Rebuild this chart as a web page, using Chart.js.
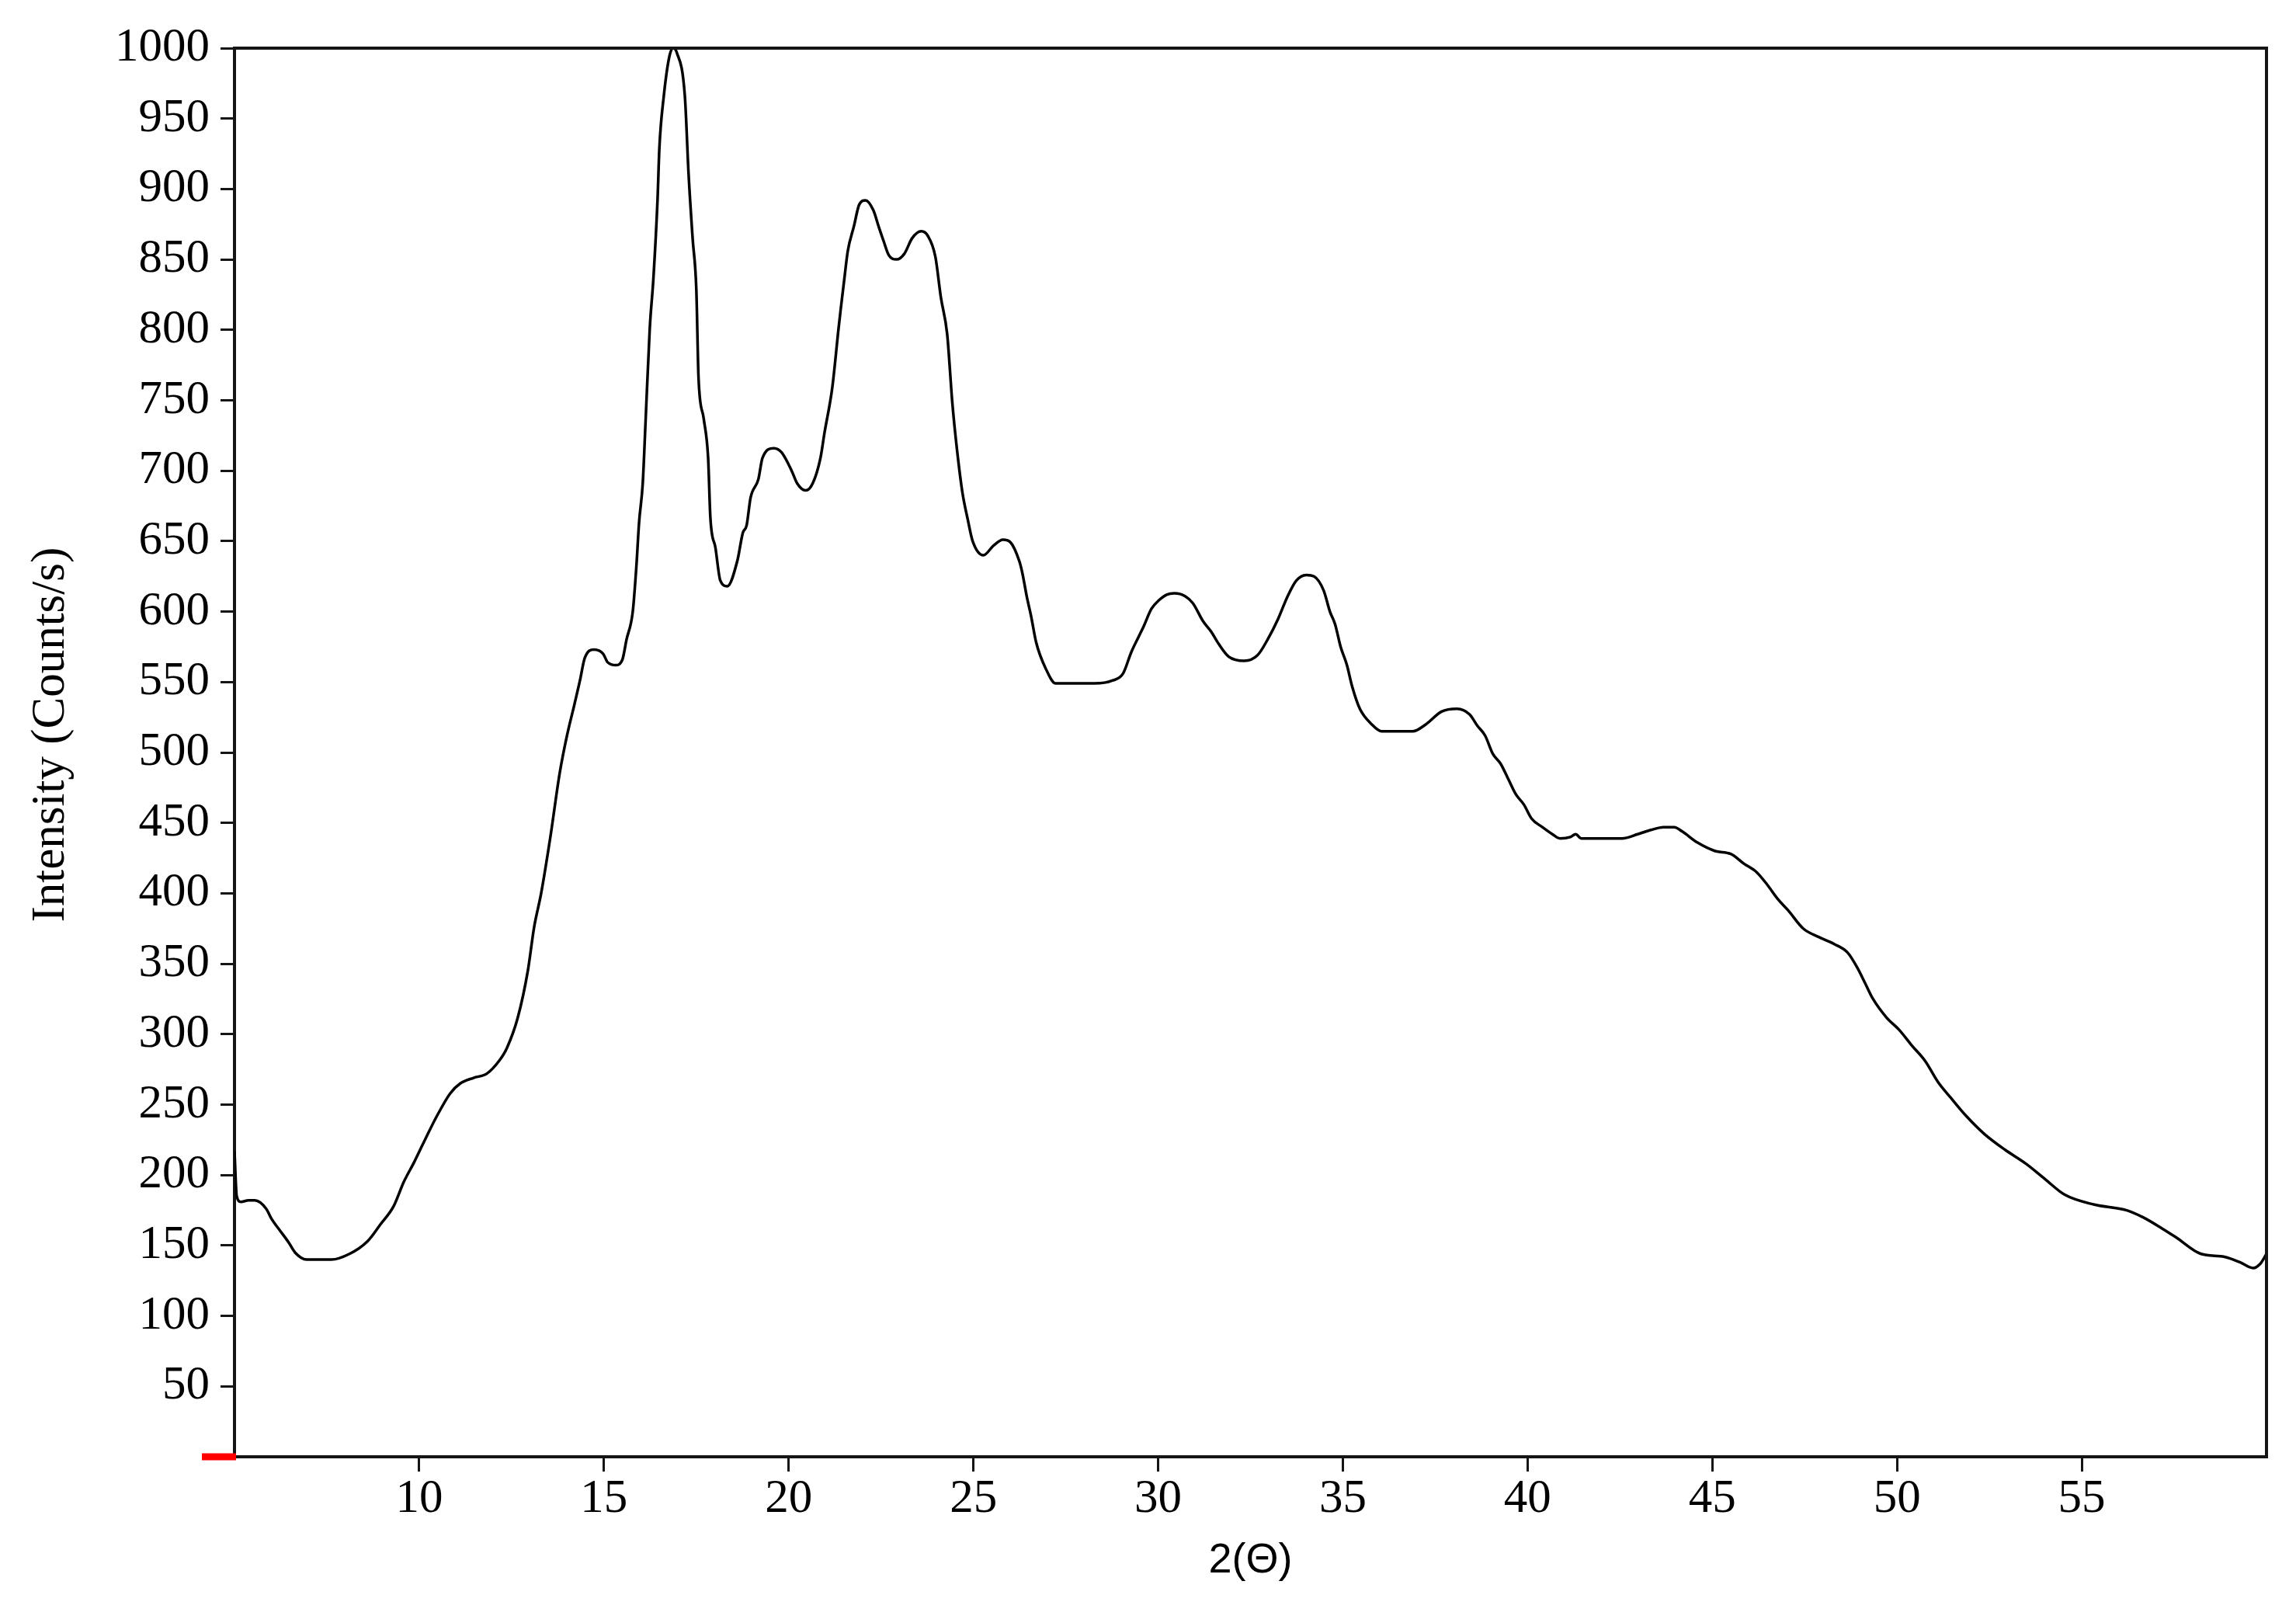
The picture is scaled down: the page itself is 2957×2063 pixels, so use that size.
<!DOCTYPE html>
<html>
<head>
<meta charset="utf-8">
<script src="https://cdn.jsdelivr.net/npm/chart.js@4.4.0/dist/chart.umd.min.js"></script>
<style>
  html, body { margin: 0; padding: 0; background: #fff; }
  canvas { display: block; }
</style>
</head>
<body>
<canvas id="xrd" width="2957" height="2063"></canvas>
<script>
// 2θ positions (deg) and intensities
const twoTheta = [
  5.0, 5.06, 5.17, 5.38, 5.55, 5.86, 6.0, 6.22, 6.47, 6.64, 6.95, 7.62, 8.11, 8.6, 8.95,
  9.31, 9.58, 9.86, 10.21, 10.48, 10.84, 11.11, 11.47, 11.83, 12.16, 12.37, 12.67, 12.94, 13.11, 13.3,
  13.55, 13.8, 14.0, 14.2, 14.35, 14.48, 14.73, 14.98, 15.1, 15.32, 15.5, 15.61, 15.78, 15.88, 15.95,
  16.05, 16.13, 16.24, 16.34, 16.45, 16.5, 16.62, 16.77, 16.87, 16.97, 17.19, 17.29, 17.4, 17.5, 17.56,
  17.7, 17.82, 17.88, 18.02, 18.15, 18.34, 18.61, 18.76, 18.86, 18.97, 19.18, 19.29, 19.6, 19.81, 20.08,
  20.23, 20.46, 20.65, 20.86, 20.97, 21.18, 21.35, 21.41, 21.51, 21.6, 21.77, 21.91, 22.08, 22.29, 22.44,
  22.57, 22.71, 22.92, 23.13, 23.34, 23.59, 23.76, 23.97, 24.12, 24.29, 24.43, 24.56, 24.7, 24.85, 24.98,
  25.27, 25.55, 25.8, 26.01, 26.24, 26.32, 26.45, 26.56, 26.7, 26.95, 27.23, 27.7, 28.28, 28.76, 29.05,
  29.27, 29.47, 29.6, 29.82, 30.02, 30.23, 30.44, 30.73, 30.94, 31.22, 31.43, 31.64, 31.91, 32.33, 32.69,
  32.96, 33.25, 33.49, 33.74, 34.01, 34.22, 34.48, 34.65, 34.79, 34.94, 35.11, 35.25, 35.46, 35.78, 36.05,
  36.89, 37.25, 37.67, 38.09, 38.43, 38.64, 38.85, 39.06, 39.27, 39.48, 39.69, 39.9, 40.11, 40.4, 40.67,
  40.88, 41.16, 41.3, 41.45, 42.56, 42.98, 43.34, 43.68, 43.97, 44.18, 44.6, 45.08, 45.5, 45.86, 46.2,
  46.49, 46.77, 47.05, 47.46, 47.88, 48.3, 48.66, 48.93, 49.14, 49.35, 49.71, 50.06, 50.4, 50.76, 51.11,
  51.45, 51.87, 52.37, 52.92, 53.49, 54.01, 54.54, 55.34, 56.22, 56.66, 57.18, 57.54, 58.23, 58.86, 59.29,
  59.64, 59.83, 60.0
];
const intensity = [
  217, 185, 181, 182, 182, 176, 169, 161, 152, 145, 140, 140, 144, 153, 165,
  178, 195, 209, 228, 242, 258, 265, 269, 272, 281, 290, 312, 345, 376, 400,
  440, 485, 512, 534, 551, 567, 573, 570, 564, 562, 566, 580, 600, 633, 663,
  691, 737, 801, 837, 892, 929, 966, 994, 1000, 997, 966, 911, 865, 829, 766,
  737, 709, 667, 645, 622, 618, 636, 656, 661, 681, 694, 709, 716, 713, 700,
  691, 686, 691, 709, 727, 759, 801, 815, 837, 856, 874, 889, 892, 885, 873,
  863, 853, 850, 854, 865, 870, 867, 852, 823, 797, 748, 714, 685, 665, 650,
  640, 647, 651, 649, 636, 628, 610, 597, 578, 560, 549, 549, 549, 551, 556,
  571, 582, 589, 602, 608, 612, 613, 611, 606, 593, 586, 577, 568, 565, 569,
  580, 595, 610, 622, 626, 625, 615, 600, 591, 575, 562, 547, 531, 520, 515,
  515, 520, 529, 531, 527, 519, 512, 499, 492, 481, 470, 463, 453, 447, 442,
  439, 440, 442, 439, 439, 442, 445, 447, 447, 444, 436, 430, 428, 421, 415,
  406, 396, 388, 375, 369, 364, 358, 347, 336, 325, 312, 303, 292, 281, 266,
  255, 242, 229, 218, 208, 197, 186, 179, 175, 170, 162, 156, 144, 142, 138,
  134, 137, 144
];
const xHidden = [5, 60];   // axis ends carry no label
const yHidden = [0];

const AXIS = '#151515';
const NONE = 'rgba(0,0,0,0)';

const framePlugin = {
  id: 'frame',
  afterDraw(chart) {
    const { ctx, chartArea: a, scales } = chart;
    ctx.save();
    ctx.strokeStyle = AXIS;
    ctx.lineWidth = 4;
    ctx.beginPath();
    ctx.moveTo(a.left - 2, a.top);
    ctx.lineTo(a.right, a.top);
    ctx.lineTo(a.right, a.bottom + 2);
    ctx.stroke();
    // red marker at the origin
    const y0 = scales.y.getPixelForValue(0);
    ctx.strokeStyle = '#ff0000';
    ctx.lineWidth = 9;
    ctx.beginPath();
    ctx.moveTo(a.left - 42, y0);
    ctx.lineTo(a.left + 2, y0);
    ctx.stroke();
    ctx.restore();
  }
};

new Chart(document.getElementById('xrd'), {
  type: 'scatter',
  data: {
    datasets: [{
      data: twoTheta.map((x, i) => ({ x, y: intensity[i] })),
      showLine: true,
      borderColor: '#000',
      borderWidth: 3.5,
      pointRadius: 0,
      cubicInterpolationMode: 'monotone'
    }]
  },
  options: {
    responsive: false,
    devicePixelRatio: 1,
    animation: false,
    layout: { padding: { left: 0, right: 38, top: 62, bottom: 0 } },
    plugins: { legend: { display: false }, tooltip: { enabled: false } },
    scales: {
      x: {
        type: 'linear',
        min: 5,
        max: 60,
        afterFit: s => { s.height = 187; },
        border: { display: true, color: AXIS, width: 4 },
        grid: {
          drawOnChartArea: false,
          tickLength: 19,
          tickWidth: 3,
          tickColor: c => (c.tick && xHidden.includes(c.tick.value)) ? NONE : AXIS
        },
        ticks: {
          stepSize: 5,
          padding: 5,
          autoSkip: false,
          maxRotation: 0,
          color: '#000',
          font: { family: 'Liberation Serif', size: 61, lineHeight: 1 },
          callback: v => xHidden.includes(v) ? '' : v
        },
        title: {
          display: true,
          text: '2(Θ)',
          color: '#000',
          font: { family: 'Liberation Sans', size: 54 },
          padding: { top: 0, bottom: 20 }
        }
      },
      y: {
        min: 0,
        max: 1000,
        afterFit: s => { s.width = 302; },
        border: { display: true, color: AXIS, width: 4 },
        grid: {
          drawOnChartArea: false,
          tickLength: 18,
          tickWidth: 3,
          tickColor: c => (c.tick && yHidden.includes(c.tick.value)) ? NONE : AXIS
        },
        ticks: {
          stepSize: 50,
          padding: 14,
          autoSkip: false,
          color: '#000',
          font: { family: 'Liberation Serif', size: 61 },
          callback: v => yHidden.includes(v) ? '' : v
        },
        title: {
          display: true,
          text: '\u00a0\u00a0\u00a0Intensity (Counts/s)',
          color: '#000',
          font: { family: 'Liberation Serif', size: 61 },
          padding: { top: 29, bottom: 0 }
        }
      }
    }
  },
  plugins: [framePlugin]
});
</script>
</body>
</html>
